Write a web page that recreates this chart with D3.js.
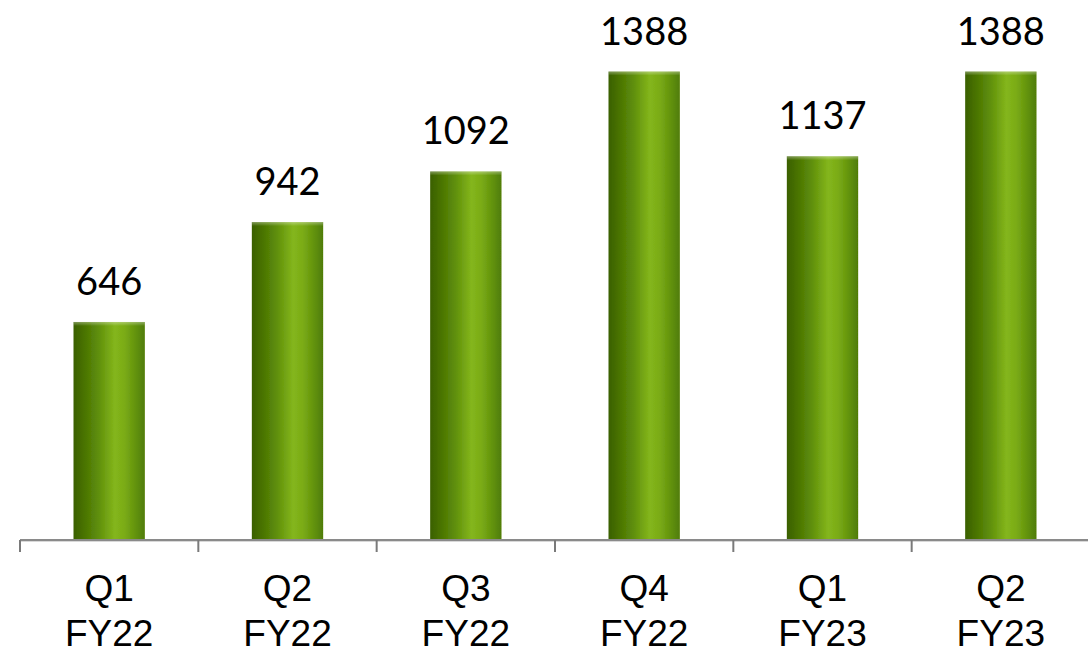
<!DOCTYPE html>
<html>
<head>
<meta charset="utf-8">
<script src="https://cdn.jsdelivr.net/npm/d3@7"></script>
<style>
  html, body { margin: 0; padding: 0; background: #ffffff; }
  svg { display: block; }
</style>
</head>
<body>
<svg id="chart" width="1088" height="656"></svg>
<script>
// Quarterly values
const quarters = ["Q1", "Q2", "Q3", "Q4", "Q1", "Q2"];
const fiscalYears = ["FY22", "FY22", "FY22", "FY22", "FY23", "FY23"];
const values = [646, 942, 1092, 1388, 1137, 1388];

const categories = quarters.map((q, i) => q + " " + fiscalYears[i]);
const rows = categories.map((c, i) => ({ cat: c, q: quarters[i], fy: fiscalYears[i], v: values[i] }));

const svg = d3.select("#chart");
const W = 1088, H = 656;
const baseY = 540;

const x = d3.scaleBand()
  .domain(categories)
  .range([20, 1090])
  .paddingInner(0.6)
  .paddingOuter(0.3);

const y = d3.scaleLinear()
  .domain([0, 1600])
  .range([baseY, 0]);

// Horizontal cylinder-like shading for the bars
const defs = svg.append("defs");
const grad = defs.append("linearGradient")
  .attr("id", "barFill")
  .attr("x1", "0%").attr("x2", "100%")
  .attr("y1", "0%").attr("y2", "0%");
[
  [0, "#3a6000"],
  [0.12, "#466f02"],
  [0.35, "#5f8f0a"],
  [0.58, "#84b61c"],
  [0.72, "#7aab16"],
  [0.9, "#5e8e0a"],
  [1, "#4f7c06"]
].forEach(([o, c]) => grad.append("stop").attr("offset", o).attr("stop-color", c));

const topGrad = defs.append("linearGradient")
  .attr("id", "barTop")
  .attr("x1", "0%").attr("x2", "0%")
  .attr("y1", "0%").attr("y2", "100%");
topGrad.append("stop").attr("offset", 0).attr("stop-color", "#ffffff").attr("stop-opacity", 0.35);
topGrad.append("stop").attr("offset", 1).attr("stop-color", "#ffffff").attr("stop-opacity", 0);

const softEdge = defs.append("filter").attr("id", "soft")
  .attr("x", "-10%").attr("y", "-5%").attr("width", "120%").attr("height", "110%");
softEdge.append("feGaussianBlur").attr("stdDeviation", 0.6);

// Bars
const bars = svg.append("g");
bars.selectAll("rect.bar")
  .data(rows)
  .join("rect")
  .attr("class", "bar")
  .attr("x", d => x(d.cat))
  .attr("y", d => y(d.v))
  .attr("width", x.bandwidth())
  .attr("height", d => baseY - y(d.v))
  .attr("fill", "url(#barFill)")
  .attr("filter", "url(#soft)");

bars.selectAll("rect.shine")
  .data(rows)
  .join("rect")
  .attr("class", "shine")
  .attr("x", d => x(d.cat))
  .attr("y", d => y(d.v))
  .attr("width", x.bandwidth())
  .attr("height", 4)
  .attr("fill", "url(#barTop)");

// Value labels above the bars
svg.append("g")
  .selectAll("text")
  .data(rows)
  .join("text")
  .attr("x", d => x(d.cat) + x.bandwidth() / 2)
  .attr("y", d => y(d.v) - 27)
  .attr("text-anchor", "middle")
  .attr("font-family", "Lato, 'Open Sans', sans-serif")
  .attr("font-size", 38)
  .attr("fill", "#000000")
  .text(d => d.v);

// Category axis
const axis = d3.axisBottom(x)
  .tickSize(0)
  .tickFormat("");
const gAxis = svg.append("g")
  .attr("transform", `translate(0,${baseY})`)
  .call(axis);
gAxis.select(".domain").remove();

gAxis.append("line")
  .attr("x1", 20).attr("x2", W)
  .attr("y1", 1).attr("y2", 1)
  .attr("stroke", "#d8d8d8")
  .attr("stroke-width", 2);
gAxis.append("line")
  .attr("x1", 20).attr("x2", W)
  .attr("y1", 0).attr("y2", 0)
  .attr("stroke", "#8a8a8a")
  .attr("stroke-width", 2);

// Tick marks on band boundaries
const step = x.step();
const boundaries = categories.map(c => x(c) - x.paddingOuter() * step);
gAxis.selectAll("line.tick-mark")
  .data(boundaries)
  .join("line")
  .attr("class", "tick-mark")
  .attr("x1", d => d).attr("x2", d => d)
  .attr("y1", 0).attr("y2", 12)
  .attr("stroke", "#7a7a7a")
  .attr("stroke-width", 2);

// Two-line category labels
const lbl = gAxis.selectAll("text.cat")
  .data(rows)
  .join("text")
  .attr("class", "cat")
  .attr("text-anchor", "middle")
  .attr("font-family", "'Liberation Sans', Arial, sans-serif")
  .attr("font-size", 37)
  .attr("fill", "#000000")
  .attr("x", d => x(d.cat) + x.bandwidth() / 2);
lbl.append("tspan")
  .attr("x", d => x(d.cat) + x.bandwidth() / 2)
  .attr("y", 61)
  .text(d => d.q);
lbl.append("tspan")
  .attr("x", d => x(d.cat) + x.bandwidth() / 2)
  .attr("y", 106)
  .text(d => d.fy);
</script>
</body>
</html>
